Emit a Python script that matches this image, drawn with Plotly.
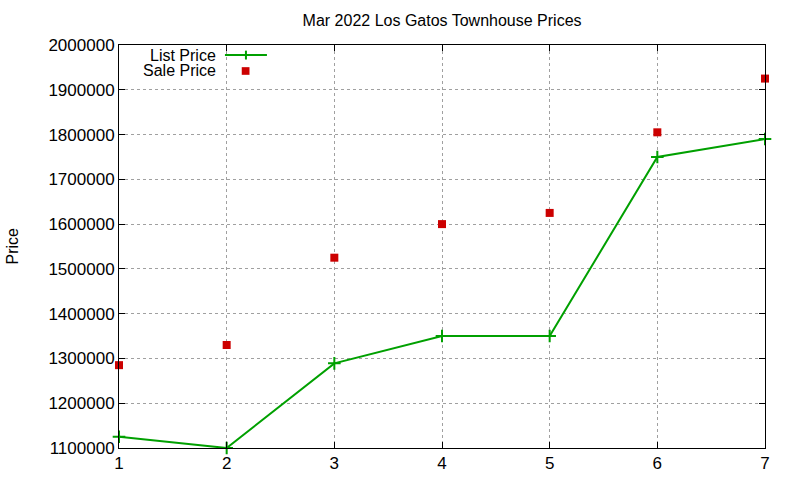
import plotly.graph_objects as go

# month index and prices
months = [1, 2, 3, 4, 5, 6, 7]
list_price = [1125000, 1100000, 1289000, 1350000, 1350000, 1750000, 1790000]
sale_price = [1285000, 1330000, 1525000, 1600000, 1625000, 1805000, 1925000]

green = "#00a000"
red = "#cc0000"

fig = go.Figure()
fig.add_trace(go.Scatter(x=months, y=list_price, mode="lines+markers", name="List Price",
                         line=dict(color=green, width=2),
                         marker=dict(symbol="cross-thin", size=9, line=dict(color=green, width=2)),
                         cliponaxis=False))
fig.add_trace(go.Scatter(x=months, y=sale_price, mode="markers", name="Sale Price",
                         marker=dict(symbol="square", size=8, color=red),
                         cliponaxis=False))

axis_style = dict(showline=True, linecolor="black", linewidth=1, mirror="ticks",
                  ticks="inside", ticklen=6, tickcolor="black",
                  showgrid=True, gridcolor="#a0a0a0", griddash="dot", gridwidth=1,
                  zeroline=False, automargin=False, tickfont=dict(size=17, color="black"))

fig.update_xaxes(range=[1, 7], dtick=1, **axis_style)
fig.update_yaxes(range=[1100000, 2000000], dtick=100000, tickformat="d", **axis_style)

# y title placed like gnuplot does it
fig.add_annotation(xref="paper", yref="paper", x=-0.1656, y=0.5, text="Price", textangle=-90,
                   showarrow=False, xanchor="center", yanchor="middle", font=dict(size=16, color="black"))

# gnuplot-style key: text on the left, sample on the right
fig.add_annotation(xref="paper", yref="paper", x=0.152, y=0.975, text="List Price", borderpad=0, height=15,
                   showarrow=False, xanchor="right", yanchor="middle", font=dict(size=16, color="black"))
fig.add_annotation(xref="paper", yref="paper", x=0.152, y=0.9355, text="Sale Price", borderpad=0, height=15,
                   showarrow=False, xanchor="right", yanchor="middle", font=dict(size=16, color="black"))
fig.add_shape(type="line", xref="paper", yref="paper", x0=0.164, x1=0.229, y0=0.975, y1=0.975,
              line=dict(color=green, width=2))
fig.add_shape(type="line", xref="paper", yref="paper", x0=0.1965, x1=0.1965, y0=0.964, y1=0.986,
              line=dict(color=green, width=2))
fig.add_shape(type="rect", xref="paper", yref="paper", x0=0.190, x1=0.202, y0=0.926, y1=0.945,
              fillcolor=red, line=dict(width=0))

fig.update_layout(
    width=800, height=480,
    font=dict(family="Liberation Sans, Arial, sans-serif", color="black"),
    title=dict(text="Mar 2022 Los Gatos Townhouse Prices", x=0.5526, xanchor="center",
               y=0.958, yanchor="middle", font=dict(size=16, color="black")),
    showlegend=False,
    plot_bgcolor="white", paper_bgcolor="white",
    margin=dict(l=119, r=35, t=45, b=32),
)

# drop the page's default body margin so the figure sits at the window corner
fig.write_html("out.html", config={"displayModeBar": False},
               post_script="document.body.style.margin='0';document.body.style.overflow='hidden';")
